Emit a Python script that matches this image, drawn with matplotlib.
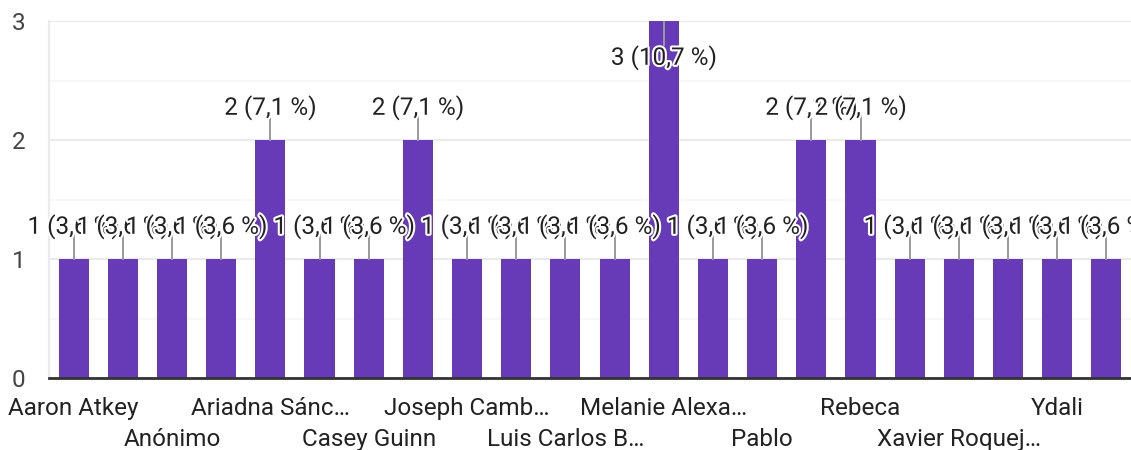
import matplotlib

matplotlib.use("Agg")
import matplotlib.pyplot as plt  # noqa: E402
import matplotlib.patheffects as pe  # noqa: E402

# responses per person (Google Forms style summary)
counts = [1, 1, 1, 1, 2, 1, 1, 2, 1, 1, 1, 1, 3, 1, 1, 2, 2, 1, 1, 1, 1, 1]
# only every second name is shown on the axis; hidden ones left blank
names = ["Aaron Atkey", "", "Anónimo", "", "Ariadna Sánc…", "", "Casey Guinn", "",
         "Joseph Camb…", "", "Luis Carlos B…", "", "Melanie Alexa…", "", "Pablo", "",
         "Rebeca", "", "Xavier Roquej…", "", "Ydali", ""]
yticks = [0, 1, 2, 3]

PURPLE = "#673ab7"
TEXT = "#222222"
FS = 17.5

plt.rcParams["font.family"] = ["Roboto", "DejaVu Sans"]

total = sum(counts)
ymax = max(yticks)
xs = list(range(len(counts)))

fig = plt.figure(figsize=(11.31, 4.5), dpi=100)
ax = fig.add_axes([49 / 1131, 72 / 450, 1 - 49 / 1131, 357 / 450])

ax.bar(xs, counts, width=0.61, color=PURPLE, zorder=2)
ax.set_xlim(-0.5, len(counts) - 0.5)
ax.set_ylim(0, ymax)

# gridlines
ax.set_yticks(yticks)
ax.set_yticks([0.5, 1.5, 2.5], minor=True)
ax.grid(True, axis="y", which="major", color="#ebebeb", lw=1.6, zorder=0)
ax.grid(True, axis="y", which="minor", color="#f6f6f6", lw=1.2, zorder=0)
ax.tick_params(axis="y", which="both", length=0, pad=17, labelsize=FS, labelcolor="#444444")
for s in ("top", "right"):
    ax.spines[s].set_visible(False)
ax.spines["left"].set_color("#ebebeb")
ax.spines["left"].set_linewidth(1.6)
ax.spines["bottom"].set_color("#333333")
ax.spines["bottom"].set_linewidth(2)
ax.spines["bottom"].set_zorder(3)

# staggered category labels
shown = [(i, n) for i, n in enumerate(names) if n]
ax.set_xticks([i for i, _ in shown])
ax.set_xticklabels([n if k % 2 == 0 else "\n" + n for k, (i, n) in enumerate(shown)],
                   fontsize=FS, color=TEXT, linespacing=1.4)
ax.tick_params(axis="x", length=0, pad=14)

# value labels with leader lines; drawn in order so they overlap like the source
halo = [pe.withStroke(linewidth=3, foreground="white")]
for x, v in zip(xs, counts):
    pct = f"{v / total * 100:.1f}".replace(".", ",")
    label = f"{v} ({pct} %)"
    if v + 0.45 > ymax:
        ax.plot([x, x], [v, v - 0.2], color="#999999", lw=1.4, zorder=3)
        ty = v - 0.31
    else:
        ax.plot([x, x], [v, v + 0.2], color="#999999", lw=1.4, zorder=3)
        ty = v + 0.27
    ax.text(x, ty, label, ha="center", va="center", fontsize=FS, color=TEXT,
            path_effects=halo, zorder=4)

fig.savefig("out.png", dpi=100)
